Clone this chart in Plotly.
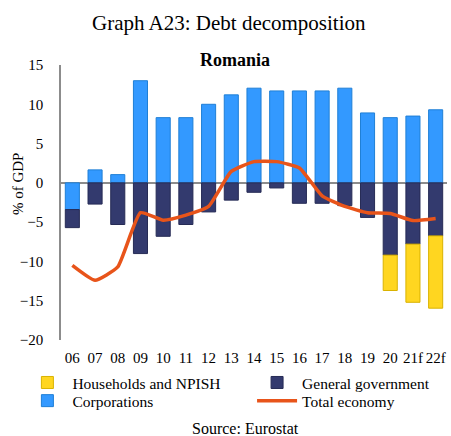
import plotly.graph_objects as go

# Romania: debt decomposition by sector, % of GDP
years = ["06", "07", "08", "09", "10", "11", "12", "13", "14", "15",
         "16", "17", "18", "19", "20", "21f", "22f"]
corporations = [-3.4, 1.65, 1.05, 13.0, 8.3, 8.3, 10.0, 11.2, 12.05, 11.7,
                11.7, 11.7, 12.05, 8.9, 8.3, 8.5, 9.3]
general_government = [-2.3, -2.7, -5.3, -9.0, -6.8, -5.3, -3.7, -2.2, -1.2, -0.65,
                      -2.6, -2.6, -2.9, -4.4, -9.2, -7.8, -6.75]
households = [None, None, None, None, None, None, None, None, None, None,
              None, None, None, None, -4.5, -7.4, -9.2]
total_economy = [-10.5, -12.4, -10.7, -3.8, -4.75, -4.1, -3.0, 1.45, 2.7, 2.7,
                 1.9, -1.65, -3.0, -3.8, -3.9, -4.8, -4.55]

FONT = "Liberation Serif"

fig = go.Figure()
fig.add_trace(go.Bar(
    x=years, y=corporations, name="Corporations",
    marker=dict(color="#3399FF", line=dict(color="#1F7FD6", width=1)),
    legend="legend3",
))
fig.add_trace(go.Bar(
    x=years, y=general_government, name="General government",
    marker=dict(color="#333A6E", line=dict(color="#262B55", width=1)),
    legend="legend2",
))
fig.add_trace(go.Bar(
    x=years, y=households, name="Households and NPISH",
    marker=dict(color="#FFD620", line=dict(color="#D9B200", width=1)),
    legend="legend",
))
fig.add_trace(go.Scatter(
    x=years, y=total_economy, name="Total economy", mode="lines",
    line=dict(color="#E8541A", width=3.5, shape="spline", smoothing=0.45),
    legend="legend4",
))

# one legend box per entry, laid out as two columns x two rows
legend_style = dict(
    orientation="v", xanchor="left", yanchor="middle",
    font=dict(family=FONT, size=15.5), tracegroupgap=0,
    itemwidth=40, bgcolor="rgba(0,0,0,0)",
)
col_left, col_right = -0.1, 0.495
row_top, row_bottom = -0.156, -0.222

fig.update_layout(
    width=451, height=436,
    margin=dict(l=61, r=4, t=65, b=96, autoexpand=False),
    paper_bgcolor="white", plot_bgcolor="white",
    barmode="relative", bargap=0.38,
    font=dict(family=FONT, size=15, color="black"),
    showlegend=True,
    legend=dict(x=col_left, y=row_top, **legend_style),
    legend2=dict(x=col_right, y=row_top, **legend_style),
    legend3=dict(x=col_left, y=row_bottom, **legend_style),
    legend4=dict(x=col_right, y=row_bottom, **legend_style),
    xaxis=dict(
        type="category", showline=False, showgrid=False, ticks="",
        tickfont=dict(family=FONT, size=15), ticklabelstandoff=7,
    ),
    yaxis=dict(
        range=[-20, 15], dtick=5, showgrid=False,
        showline=True, linecolor="#8C8C8C", linewidth=1.5,
        zeroline=True, zerolinecolor="#8C8C8C", zerolinewidth=1.5,
        ticks="", ticklabelstandoff=13,
        tickfont=dict(family=FONT, size=15),
    ),
    annotations=[
        dict(text="Graph A23: Debt decomposition", xref="paper", yref="paper",
             x=0.435, y=1.0, yshift=42, xanchor="center", yanchor="middle",
             showarrow=False, font=dict(family=FONT, size=21)),
        dict(text="<b>Romania</b>", xref="paper", yref="paper",
             x=0.45, y=1.0, yshift=5, xanchor="center", yanchor="middle",
             showarrow=False, font=dict(family=FONT, size=18)),
        dict(text="% of GDP", xref="paper", yref="paper",
             x=0, xshift=-43, y=0.567, xanchor="center", yanchor="middle",
             textangle=-90, showarrow=False, font=dict(family=FONT, size=15)),
        dict(text="Source: Eurostat", xref="paper", yref="paper",
             x=0.477, y=0, yshift=-88, xanchor="center", yanchor="middle",
             showarrow=False, font=dict(family=FONT, size=16)),
    ],
)

fig.write_html("out.html")
